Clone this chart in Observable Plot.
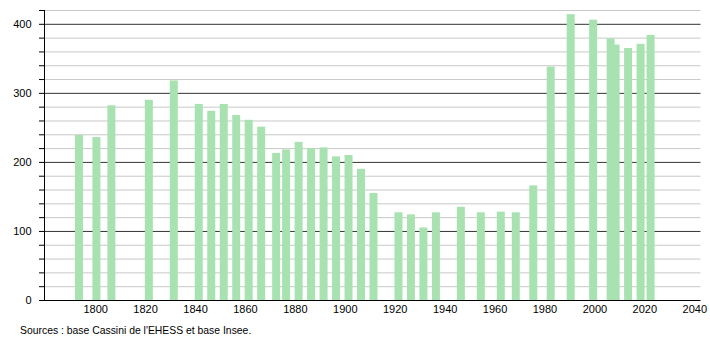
<!DOCTYPE html>
<html>
<head>
<meta charset="utf-8">
<script src="https://cdn.jsdelivr.net/npm/d3@7"></script>
<script src="https://cdn.jsdelivr.net/npm/@observablehq/plot@0.6"></script>
<style>
  html, body { margin: 0; padding: 0; background: #fff; }
  #caption { font-family: "Liberation Sans", Arial, sans-serif; font-size: 10.4px; color: #000; padding-left: 20px; margin-top: 4px; line-height: 13px; }
</style>
</head>
<body>
<div id="chart"></div>
<div id="caption">Sources : base Cassini de l'EHESS et base Insee.</div>
<script>
const years = [1793, 1800, 1806, 1821, 1831, 1841, 1846, 1851, 1856, 1861, 1866, 1872, 1876, 1881, 1886, 1891, 1896, 1901, 1906, 1911, 1921, 1926, 1931, 1936, 1946, 1954, 1962, 1968, 1975, 1982, 1990, 1999, 2006, 2008, 2013, 2018, 2022];
const population = [239, 236, 282, 290, 318, 284, 274, 284, 268, 261, 251, 213, 218, 229, 220, 221, 208, 210, 190, 155, 127, 124, 105, 127, 135, 127, 128, 127, 166, 338, 414, 406, 379, 370, 365, 371, 384];
const xTicks = [1800, 1820, 1840, 1860, 1880, 1900, 1920, 1940, 1960, 1980, 2000, 2020, 2040];
const yTicks = [0, 20, 40, 60, 80, 100, 120, 140, 160, 180, 200, 220, 240, 260, 280, 300, 320, 340, 360, 380, 400, 420];
const yLabelled = [0, 100, 200, 300, 400];

const data = years.map((year, i) => ({year, pop: population[i]}));
const gridLight = yTicks.filter(v => v > 0 && !yLabelled.includes(v));
const gridDark = yLabelled.filter(v => v > 0);

const chart = Plot.plot({
  width: 710,
  height: 320,
  marginLeft: 44,
  marginRight: 9.5,
  marginTop: 10,
  marginBottom: 20,
  style: {fontFamily: "'Liberation Sans', Arial, sans-serif", fontSize: "11px", color: "#000", background: "#fff"},
  x: {domain: [1779.5, 2042.5], label: null},
  y: {domain: [0, 420], label: null},
  marks: [
    Plot.ruleY(gridLight, {stroke: "#c8c8c8"}),
    Plot.ruleY(gridDark, {stroke: "#333"}),
    Plot.rectY(data, {x1: d => d.year - 1.1, x2: d => d.year + 2.1, y1: 0, y2: "pop", fill: "#a8e2b0"}),
    Plot.axisY({ticks: yTicks, tickSize: 5, tickPadding: 8, tickFormat: d => yLabelled.includes(d) ? String(d) : "", stroke: "#000"}),
    Plot.axisX({ticks: xTicks, tickSize: 0, tickPadding: 5, tickFormat: d => String(d)}),
    Plot.ruleY([0], {stroke: "#000"}),
    Plot.frame({anchor: "left", stroke: "#000"})
  ]
});
document.getElementById("chart").appendChild(chart);
</script>
</body>
</html>
